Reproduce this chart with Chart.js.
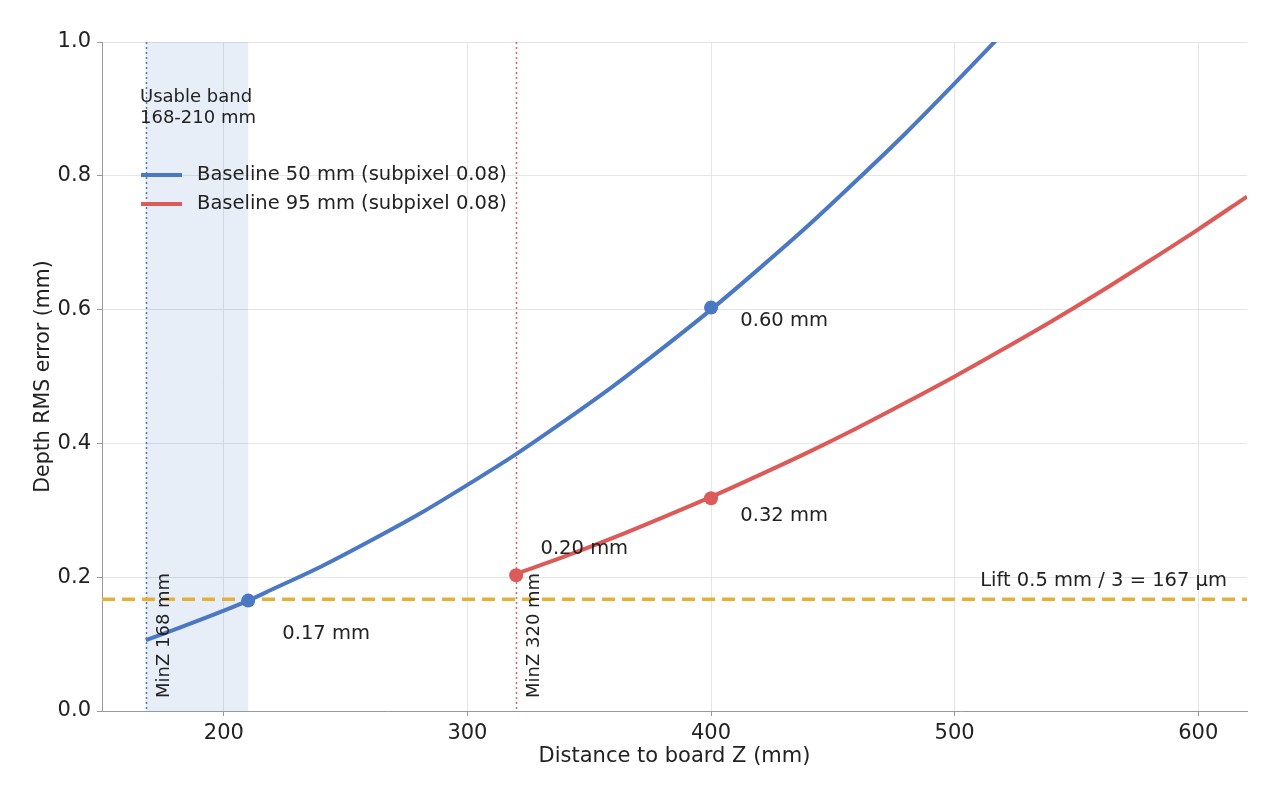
<!DOCTYPE html>
<html>
<head>
<meta charset="utf-8">
<script src="https://cdn.jsdelivr.net/npm/chart.js@4/dist/chart.umd.min.js"></script>
<style>
  html, body { margin: 0; padding: 0; background: #fff; }
  #wrap { width: 1280px; height: 800px; }
</style>
</head>
<body>
<div id="wrap"><canvas id="depth-chart" width="1280" height="800"></canvas></div>
<script>
// values
const blueZ = [168, 180, 200, 210, 220, 240, 260, 280, 300, 320, 340, 360, 380, 400, 420, 440, 460, 480, 500, 520];
const blueErr = [0.106, 0.122, 0.150, 0.165, 0.182, 0.216, 0.254, 0.294, 0.338, 0.384, 0.434, 0.486, 0.542, 0.600, 0.662, 0.726, 0.794, 0.864, 0.938, 1.014];
const redZ = [320, 340, 360, 380, 400, 420, 440, 460, 480, 500, 520, 540, 560, 580, 600, 620];
const redErr = [0.205, 0.231, 0.259, 0.289, 0.320, 0.353, 0.387, 0.423, 0.461, 0.500, 0.541, 0.583, 0.627, 0.673, 0.720, 0.769];

const blueMarkZ = [210, 400];
const blueMarkErr = [0.165, 0.603];
const redMarkZ = [320, 400];
const redMarkErr = [0.203, 0.318];

const markLabels = ["0.17 mm", "0.60 mm", "0.20 mm", "0.32 mm"];
const markLabelZ = [224, 412, 330, 412];
const markLabelErr = [0.115, 0.583, 0.242, 0.292];

const seriesNames = ["Baseline 50 mm (subpixel 0.08)", "Baseline 95 mm (subpixel 0.08)"];
const liftLevel = 0.167;
const liftLabel = "Lift 0.5 mm / 3 = 167 µm";
const bandFrom = 168;
const bandTo = 210;
const minZBlue = 168;
const minZRed = 320;

const xTicks = [200, 300, 400, 500, 600];
const yTicks = [0, 0.2, 0.4, 0.6, 0.8, 1.0];

const BLUE = "#4a78c2";
const RED = "#dc5b58";
const GOLD = "#e4b035";
const TEXT = "#222222";
const FONT = "'DejaVu Sans', sans-serif";

const zip = (xs, ys) => xs.map((x, i) => ({ x, y: ys[i] }));

// band, reference lines and all the text labels
const extras = {
    id: "extras",
    beforeDatasetsDraw(chart) {
        const { ctx, chartArea: a, scales: { x, y } } = chart;
        ctx.save();
        ctx.fillStyle = "rgba(74, 120, 200, 0.13)";
        ctx.fillRect(x.getPixelForValue(bandFrom), a.top, x.getPixelForValue(bandTo) - x.getPixelForValue(bandFrom), a.bottom - a.top);

        ctx.lineWidth = 1.5;
        ctx.setLineDash([2, 3]);
        [[minZBlue, BLUE], [minZRed, "#d06a66"]].forEach(([z, c]) => {
            const px = Math.round(x.getPixelForValue(z)) + 0.5;
            ctx.strokeStyle = c;
            ctx.beginPath();
            ctx.moveTo(px, a.top);
            ctx.lineTo(px, a.bottom);
            ctx.stroke();
        });

        ctx.strokeStyle = GOLD;
        ctx.lineWidth = 3.5;
        ctx.setLineDash([13, 7]);
        const py = y.getPixelForValue(liftLevel);
        ctx.beginPath();
        ctx.moveTo(a.left, py);
        ctx.lineTo(a.right, py);
        ctx.stroke();
        ctx.restore();
    },
    afterDatasetsDraw(chart) {
        const { ctx, chartArea: a, scales: { x, y } } = chart;
        ctx.save();
        ctx.fillStyle = TEXT;
        ctx.textBaseline = "middle";

        ctx.font = "19.5px " + FONT;
        ctx.textAlign = "left";
        markLabels.forEach((t, i) => {
            ctx.fillText(t, x.getPixelForValue(markLabelZ[i]), y.getPixelForValue(markLabelErr[i]));
        });

        ctx.font = "19.5px " + FONT;
        ctx.textAlign = "right";
        ctx.fillText(liftLabel, a.right - 20, y.getPixelForValue(liftLevel) - 18);

        ctx.textAlign = "left";
        [minZBlue, minZRed].forEach((z) => {
            ctx.save();
            ctx.translate(x.getPixelForValue(z) + 18, a.bottom - 13);
            ctx.rotate(-Math.PI / 2);
            ctx.font = "18px " + FONT;
            ctx.fillText("MinZ " + z + " mm", 0, 0);
            ctx.restore();
        });

        ctx.font = "18px " + FONT;
        ctx.fillText("Usable band", a.left + 38, a.top + 55);
        ctx.fillText(bandFrom + "-" + bandTo + " mm", a.left + 38, a.top + 76);

        // legend
        ctx.font = "19.5px " + FONT;
        [BLUE, RED].forEach((c, i) => {
            const ly = a.top + 133 + i * 29;
            ctx.strokeStyle = c;
            ctx.lineWidth = 4;
            ctx.beginPath();
            ctx.moveTo(a.left + 39, ly);
            ctx.lineTo(a.left + 80, ly);
            ctx.stroke();
            ctx.fillText(seriesNames[i], a.left + 95, ly);
        });
        ctx.restore();
    },
};

const lineSet = (label, pts, color) => ({
    label,
    data: pts,
    borderColor: color,
    borderWidth: 4,
    pointRadius: 0,
    tension: 0.4,
    cubicInterpolationMode: "monotone",
    fill: false,
});

const markSet = (pts, color) => ({
    data: pts,
    showLine: false,
    pointRadius: 7,
    pointBackgroundColor: color,
    pointBorderColor: color,
    pointBorderWidth: 0,
});

const axisTicks = { color: TEXT, font: { size: 21, family: FONT } };

new Chart(document.getElementById("depth-chart"), {
    type: "line",
    data: {
        datasets: [
            lineSet(seriesNames[0], zip(blueZ, blueErr), BLUE),
            lineSet(seriesNames[1], zip(redZ, redErr), RED),
            markSet(zip(blueMarkZ, blueMarkErr), BLUE),
            markSet(zip(redMarkZ, redMarkErr), RED),
        ],
    },
    options: {
        responsive: false,
        animation: false,
        devicePixelRatio: 1,
        layout: { padding: { top: 42, right: 33, left: 0, bottom: 27 } },
        plugins: { legend: { display: false }, tooltip: { enabled: false } },
        scales: {
            x: {
                type: "linear",
                min: 150,
                max: 620,
                afterBuildTicks: (s) => { s.ticks = xTicks.map((v) => ({ value: v })); },
                afterFit: (s) => { s.height = 62; },
                grid: { color: "#e5e5e5", lineWidth: 1, tickColor: "#999", tickLength: 5 },
                border: { color: "#999", width: 1 },
                ticks: { ...axisTicks, padding: 5 },
                title: { display: true, text: "Distance to board Z (mm)", color: TEXT, font: { size: 21, family: FONT }, padding: { top: 4 } },
            },
            y: {
                min: 0,
                max: 1.0,
                afterBuildTicks: (s) => { s.ticks = yTicks.map((v) => ({ value: v })); },
                afterFit: (s) => { s.width = 102; },
                grid: { color: "#e5e5e5", lineWidth: 1, tickColor: "#999", tickLength: 5 },
                border: { color: "#999", width: 1 },
                ticks: { ...axisTicks, padding: 6, callback: (v) => v.toFixed(1) },
                title: { display: true, text: "Depth RMS error (mm)", color: TEXT, font: { size: 20.5, family: FONT }, padding: { bottom: 0, top: 31 } },
            },
        },
    },
    plugins: [extras],
});
</script>
</body>
</html>
